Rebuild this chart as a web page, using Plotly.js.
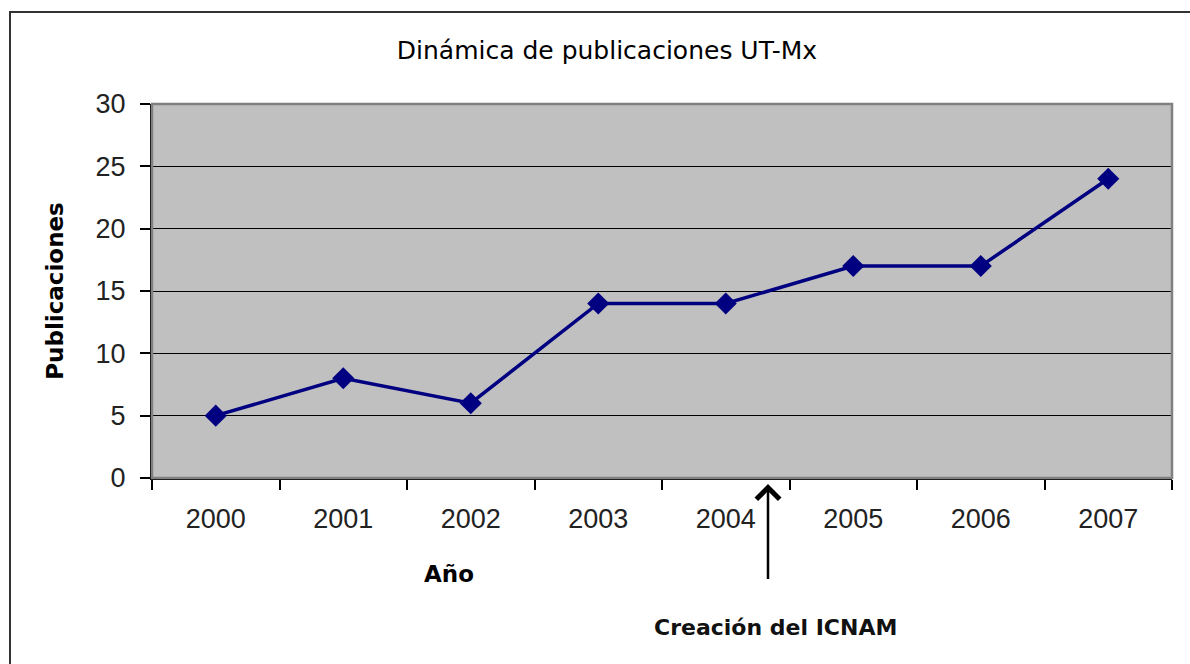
<!DOCTYPE html>
<html>
<head>
<meta charset="utf-8">
<script src="https://cdn.plot.ly/plotly-3.0.1.min.js"></script>
<style>
  html, body { margin: 0; padding: 0; background: #ffffff; }
  #chart { width: 1190px; height: 664px; }
</style>
</head>
<body>
<div id="chart"></div>
<script>
// Data
const years = ["2000", "2001", "2002", "2003", "2004", "2005", "2006", "2007"];
const publicaciones = [5, 8, 6, 14, 14, 17, 17, 24];
const yTicks = [0, 5, 10, 15, 20, 25, 30];

const chartTitle = "Dinámica de publicaciones UT-Mx";
const yTitle = "Publicaciones";
const xTitle = "Año";
const eventLabel = "Creación del ICNAM";

const trace = {
  x: years,
  y: publicaciones,
  type: "scatter",
  mode: "lines+markers",
  line: { color: "#000080", width: 3.5 },
  marker: { symbol: "diamond", size: 17, color: "#000080" },
  hoverinfo: "x+y"
};

const plotL = 152, plotR = 1172, plotT = 104, plotB = 478;
function px2paperX(px) { return (px - plotL) / (plotR - plotL); }
function px2paperY(py) { return (plotB - py) / (plotB - plotT); }

const layout = {
  width: 1190,
  height: 664,
  paper_bgcolor: "#ffffff",
  plot_bgcolor: "#c0c0c0",
  showlegend: false,
  margin: { l: 152, r: 18, t: 104, b: 186 },
  title: {
    text: chartTitle,
    font: { family: "DejaVu Sans", size: 25, color: "#000000" },
    x: 0.51, xref: "container", xanchor: "center",
    y: 1 - 50 / 664, yref: "container", yanchor: "middle"
  },
  xaxis: {
    type: "category",
    range: [-0.5, 7.5],
    tickson: "boundaries",
    ticks: "outside",
    ticklen: 10,
    tickwidth: 1.5,
    tickcolor: "#000000",
    showgrid: false,
    showline: true,
    linecolor: "#000000",
    linewidth: 2,
    tickfont: { family: "Liberation Sans", size: 27, color: "#222222" },
    ticklabelstandoff: 16,
    fixedrange: true
  },
  yaxis: {
    range: [0, 30],
    tickvals: yTicks,
    ticks: "outside",
    ticklen: 10,
    tickwidth: 1.5,
    tickcolor: "#000000",
    showgrid: true,
    gridcolor: "#000000",
    gridwidth: 1,
    zeroline: false,
    showline: true,
    linecolor: "#000000",
    linewidth: 2,
    tickfont: { family: "Liberation Sans", size: 27, color: "#222222" },
    ticklabelstandoff: 9,
    title: {
      text: yTitle,
      font: { family: "DejaVu Sans", size: 23, color: "#000000", weight: "bold" },
      standoff: 26
    },
    fixedrange: true
  },
  shapes: [
    {
      type: "rect", xref: "paper", yref: "paper",
      x0: 0, x1: 1, y0: 0, y1: 1,
      line: { color: "#808080", width: 2.5 },
      fillcolor: "rgba(0,0,0,0)",
      layer: "above"
    },
    {
      type: "rect", xref: "paper", yref: "paper",
      x0: (10 - 152) / 1020, x1: 1.05,
      y0: -0.6, y1: (478 - 12) / 374,
      line: { color: "#333333", width: 2 },
      fillcolor: "rgba(0,0,0,0)",
      layer: "below"
    }
  ],
  annotations: [
    {
      x: px2paperX(768), y: px2paperY(484), xref: "paper", yref: "paper",
      text: "&nbsp;", font: { size: 1, color: "rgba(0,0,0,0)" },
      showarrow: true,
      arrowhead: 4, arrowsize: 1.8, arrowwidth: 2.5, arrowcolor: "#000000",
      ax: 0, ay: 97
    },
    {
      x: px2paperX(775), y: px2paperY(627), xref: "paper", yref: "paper",
      text: "<b>" + eventLabel + "</b>", showarrow: false,
      font: { family: "DejaVu Sans", size: 22, color: "#111111" },
      xanchor: "center", yanchor: "middle"
    },
    {
      x: px2paperX(449), y: px2paperY(574), xref: "paper", yref: "paper",
      text: "<b>" + xTitle + "</b>", showarrow: false,
      font: { family: "DejaVu Sans", size: 23, color: "#000000" },
      xanchor: "center", yanchor: "middle"
    }
  ]
};

Plotly.newPlot("chart", [trace], layout, { displayModeBar: false });
</script>
</body>
</html>
